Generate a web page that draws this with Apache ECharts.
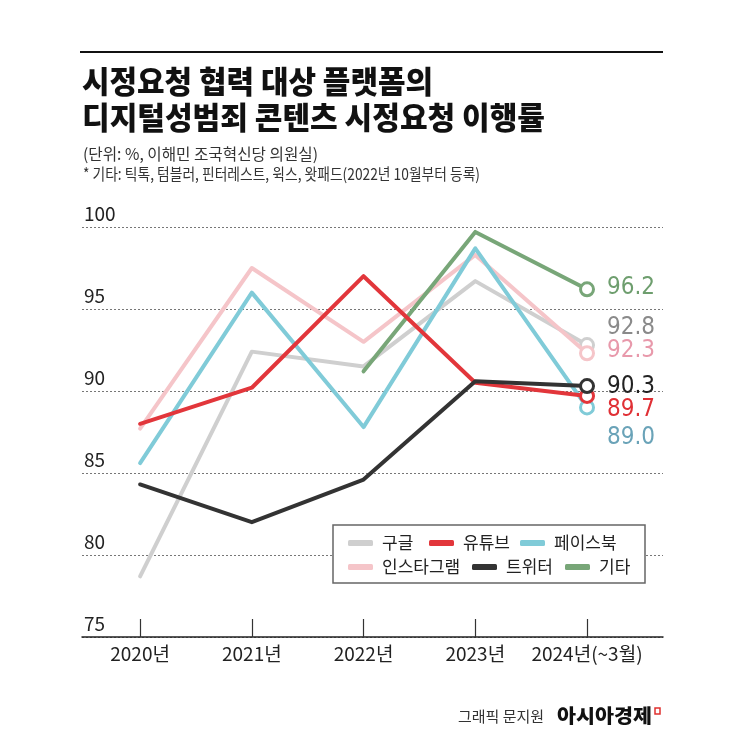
<!DOCTYPE html>
<html>
<head>
<meta charset="utf-8">
<script src="https://cdn.jsdelivr.net/npm/echarts@6/dist/echarts.min.js"></script>
<style>
html,body{margin:0;padding:0;background:#fff;}
#c{width:745px;height:745px;}
</style>
</head>
<body>
<div id="c"></div>
<script>
// ---- data ----
const categories = ['2020년', '2021년', '2022년', '2023년', '2024년(~3월)'];
const seriesNames = ['구글', '유튜브', '페이스북', '인스타그램', '트위터', '기타'];
const google    = [78.7, 92.4, 91.5, 96.7, 92.8];
const youtube   = [88.0, 90.2, 97.0, 90.5, 89.7];
const facebook  = [85.6, 96.0, 87.8, 98.7, 89.0];
const instagram = [87.7, 97.5, 93.0, 98.3, 92.3];
const twitter   = [84.3, 82.0, 84.6, 90.6, 90.3];
const others    = [null, null, 91.2, 99.7, 96.2];
const yMin = 75, yMax = 100, yStep = 5;

const titleLine1 = '시정요청 협력 대상 플랫폼의';
const titleLine2 = '디지털성범죄 콘텐츠 시정요청 이행률';
const subLine1 = '(단위: %, 이해민 조국혁신당 의원실)';
const subLine2 = '* 기타: 틱톡, 텀블러, 핀터레스트, 윅스, 왓패드(2022년 10월부터 등록)';
const creditText = '그래픽 문지원';
const brandText = '아시아경제';

// ---- styles ----
const styleMap = {
  '구글':     {data: google,    color: '#cfcfcf', labelColor: '#8a8a8a', dy: -17, z: 2},
  '인스타그램': {data: instagram, color: '#f5c5c9', labelColor: '#e899ab', dy: -3,  z: 3},
  '페이스북':  {data: facebook,  color: '#80cbd8', labelColor: '#6aa3b8', dy: 30,  z: 4},
  '기타':     {data: others,    color: '#78a678', labelColor: '#6e9e6e', dy: -2,  z: 5},
  '유튜브':   {data: youtube,   color: '#e2363b', labelColor: '#e03035', dy: 14,  z: 6},
  '트위터':   {data: twitter,   color: '#333333', labelColor: '#222222', dy: 1,   z: 7}
};
const drawOrder = ['구글', '인스타그램', '페이스북', '기타', '유튜브', '트위터'];
const numFont = '"DejaVu Sans Condensed", "Liberation Sans Narrow", "Noto Sans", sans-serif';
const krFont = '"Noto Sans CJK KR", sans-serif';

const series = drawOrder.map(name => {
  const s = styleMap[name];
  const last = s.data.length - 1;
  const pts = [];
  s.data.forEach((v, i) => {
    if (v == null) return;
    if (i === last) {
      pts.push({
        value: [i, v],
        symbol: 'circle',
        symbolSize: 13,
        itemStyle: {color: '#fff', borderColor: s.color, borderWidth: 3},
        label: {
          show: true, position: 'right', distance: 12, offset: [0, s.dy],
          formatter: v.toFixed(1), color: s.labelColor, fontSize: 24,
          fontFamily: numFont
        }
      });
    } else {
      pts.push([i, v]);
    }
  });
  return {
    name: name, type: 'line', data: pts, z: s.z,
    symbol: 'none', showSymbol: true,
    color: s.color,
    lineStyle: {color: s.color, width: 4, cap: 'round', join: 'round'},
    emphasis: {disabled: true},
    silent: true, animation: false
  };
});

// six legend items placed individually
const legendPos = {
  '구글': [348, 543], '유튜브': [429, 543], '페이스북': [520, 543],
  '인스타그램': [348, 567], '트위터': [472, 567], '기타': [565, 567]
};
const legends = seriesNames.map(n => ({
  data: [n], left: legendPos[n][0], top: legendPos[n][1] - 10,
  padding: 0, icon: 'roundRect', itemWidth: 25, itemHeight: 6,
  selectedMode: false, z: 10,
  textStyle: {fontSize: 17, color: '#222', fontFamily: krFont, lineHeight: 20, padding: [0, 0, 0, 4]}
}));

// measure text to fit condensed widths
const cv = document.createElement('canvas').getContext('2d');
function fitScale(text, font, width) {
  cv.font = font;
  return width / cv.measureText(text).width;
}
const tFont = '900 31px "Noto Sans CJK KR"';
const sFont = '16px "Noto Sans CJK KR"';

const chart = echarts.init(document.getElementById('c'), null, {renderer: 'canvas'});
chart.setOption({
  backgroundColor: '#fff',
  animation: false,
  grid: {left: 82, right: 82, top: 227, bottom: 108, containLabel: false},
  xAxis: {
    type: 'value', min: -0.52, max: 4.68,
    axisLine: {show: true, lineStyle: {color: '#222', width: 1.5}},
    axisTick: {show: true, inside: true, length: 18, customValues: [0, 1, 2, 3, 4], lineStyle: {color: '#333', width: 1.2}},
    axisLabel: {customValues: [0, 1, 2, 3, 4], formatter: v => categories[Math.round(v)], fontSize: 19, color: '#222', margin: 7, fontFamily: krFont},
    splitLine: {show: false}
  },
  yAxis: {
    type: 'value', min: yMin, max: yMax, interval: yStep,
    axisLine: {show: false}, axisTick: {show: false},
    splitLine: {show: true, lineStyle: {type: [2, 2], color: '#777', width: 1}},
    axisLabel: {inside: true, margin: 2, verticalAlign: 'bottom', padding: [0, 0, 4, 0], fontSize: 19, color: '#222', fontFamily: krFont}
  },
  legend: legends,
  series: series,
  graphic: [
    {type: 'rect', z: 1, shape: {x: 80, y: 51, width: 583, height: 2}, style: {fill: '#111'}},
    {type: 'text', z: 1, x: 82, y: 81, scaleX: fitScale(titleLine1, tFont, 351),
     style: {text: titleLine1, font: tFont, fill: '#111', verticalAlign: 'middle'}},
    {type: 'text', z: 1, x: 82, y: 117, scaleX: fitScale(titleLine2, tFont, 463),
     style: {text: titleLine2, font: tFont, fill: '#111', verticalAlign: 'middle'}},
    {type: 'text', z: 1, x: 83, y: 154, scaleX: fitScale(subLine1, sFont, 235),
     style: {text: subLine1, font: sFont, fill: '#333', verticalAlign: 'middle'}},
    {type: 'text', z: 1, x: 83, y: 174, scaleX: fitScale(subLine2, sFont, 397),
     style: {text: subLine2, font: sFont, fill: '#333', verticalAlign: 'middle'}},
    {type: 'rect', z: 1, shape: {x: 333, y: 525, width: 312, height: 58},
     style: {fill: '#fff', stroke: '#666', lineWidth: 1.5}},
    {type: 'text', z: 1, x: 458, y: 716,
     style: {text: creditText, font: '15px "Noto Sans CJK KR"', fill: '#333', verticalAlign: 'middle'}},
    {type: 'text', z: 1, x: 557, y: 716, scaleX: fitScale(brandText, '900 19px "Noto Sans CJK KR"', 95),
     style: {text: brandText, font: '900 19px "Noto Sans CJK KR"', fill: '#111', verticalAlign: 'middle'}},
    {type: 'rect', z: 1, shape: {x: 655, y: 708, width: 5, height: 6},
     style: {fill: 'none', stroke: '#e0302f', lineWidth: 1.5}}
  ]
});
</script>
</body>
</html>
